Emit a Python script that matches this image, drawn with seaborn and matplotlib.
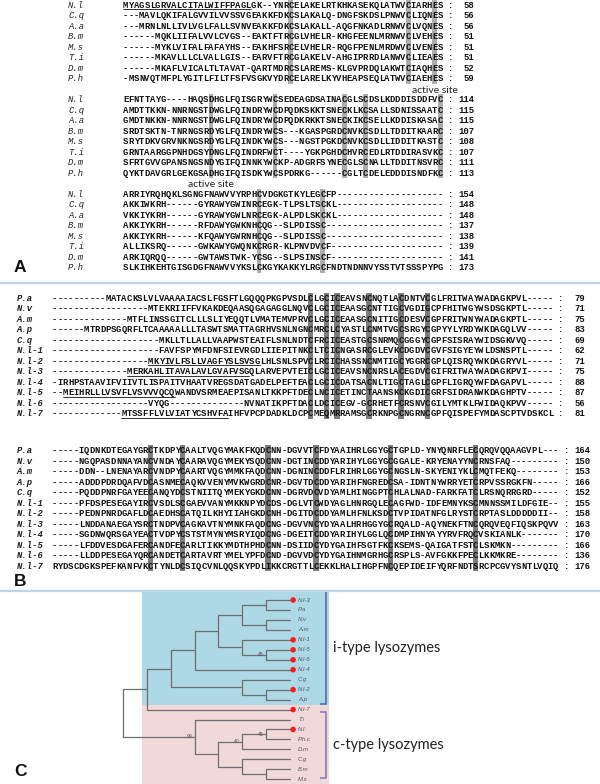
import matplotlib
matplotlib.use("Agg")
import matplotlib.pyplot as plt
from matplotlib.patches import Rectangle
import seaborn as sns
import pandas as pd
import numpy as np

sns.set_theme(style="white")
plt.rcParams["font.family"] = ["Liberation Mono", "DejaVu Sans"]

# ---------------- Panel A: c-type lysozyme alignment ----------------
names_a = ["N.l", "C.q", "A.a", "B.m", "M.s", "T.i", "D.m", "P.h"]
seq_a1 = [
    "MYAGSLGRVALCITALWIFFPAGLGK--YNRCELAKELRTKHKASEKQLATWVCIARHES",
    "---MAVLQKIFALGVVILVVSSVGEAKKFDKCSLAKALQ-DNGFSKDSLPNWVCLIQNES",
    "---MRNLNLLIVLVGLFALLSVNVEAKKFDKCSLAKALL-AQGFNKADLRNWVCLVQNES",
    "------MQKLIIFALVVLCVGS--EAKTFTRCGLVHELR-KHGFEENLMRNWVCLVEHES",
    "------MYKLVIFALFAFAYHS--EAKHFSRCELVHELR-RQGFPENLMRDWVCLVENES",
    "------MKAVLLLCLVALLGIS--EARVFTRCGLAKELV-AHGIPRRDLANWVCLIEAES",
    "------MKAFLVICALTLTAVAT-QARTMDRCSLAREMS-KLGVPRDQLAKWTCIAQHES",
    "-MSNVQTMFPLYGITLFILTFSFVSGKVYDRCELARELKYVHEAPSEQLATWVCIAEHES",
]
end_a1 = [58, 56, 56, 51, 51, 51, 52, 59]
seq_a2 = [
    "EFNTTAYG----HAQSDHGLFQISGRYWCSEDEAGDSAINACGLSCDSLKDDDISDDFVC",
    "AMDTTKKN-NNRNGSTDWGLFQINDRYWCDPQDKSKKTSNECKLKCSALLSDNISSAATC",
    "GMDTNKKN-NNRNGSTDWGLFQINDRYWCDPQDKRKKTSNECKIKCSELLKDDISKASAC",
    "SRDTSKTN-TNRNGSRDYGLFQINDRYWCS---KGASPGRDCNVKCSDLLTDDITKAARC",
    "SRYTDKVGRVNKNGSRDYGLFQINDKYWCS---NGSTPGKDCNVKCSDLLIDDITKASTC",
    "GRNTAARGGPNHDGSYDNGLFQINDRFWCT----YGKPGHDCHVRCEDLRTDDIRASVKC",
    "SFRTGVVGPANSNGSNDYGIFQINNKYWCKP-ADGRFSYNECGLSCNALLTDDITNSVRC",
    "QYKTDAVGRLGEKGSADHGIFQISDKYWCSPDRKG------CGLTCDELEDDDISNDFKC",
]
end_a2 = [114, 115, 115, 107, 108, 107, 111, 113]
seq_a3 = [
    "ARRIYRQHQKLSGNGFNAWVVYRPHCVDGKGTKYLEGCFP",
    "AKKIWKRH------GYRAWYGWINRCEGK-TLPSLTSCKL",
    "VKKIYKRH------GYRAWYGWLNRCEGK-ALPDLSKCKL",
    "AKKIYKRH------RFDAWYGWKNHCQG--SLPDISSC",
    "AKKIYKRH------KFQAWYGWRNHCQG--SLPDISSC",
    "ALLIKSRQ------GWKAWYGWQNKCRGR-KLPNVDVCF",
    "ARKIQRQQ------GWTAWSTWK-YCSG--SLPSINSCF",
    "SLKIHKEHTGISGDGFNAWVVYKSLCKGYKAKKYLRGCFNDTNDNNVYSSTVTSSSPYPG",
]
end_a3 = [154, 148, 148, 137, 138, 139, 141, 173]
shade_a1 = [31, 53, 58]
shade_a2 = [16, 28, 41, 45, 59]
shade_a3 = [25, 37]
active_site_a1 = 58
active_site_a2 = 16
signal_a1 = [(0, 0, 24)]  # (row, first column, length)

# ---------------- Panel B: i-type lysozyme alignment ----------------
names_b = ["P.a", "N.v", "A.m", "A.p", "C.q", "N.l-1", "N.l-2", "N.l-3",
           "N.l-4", "N.l-5", "N.l-6", "N.l-7"]
seq_b1 = [
    "----------MATACKSLVLVAAAAIACSLFGSFTLGQQQPKGPVSDLCLGCICEAVSNCNQTLACDNTVCGLFRITWAYWADAGKPVL-----",
    "------------------MTEKRIIFFVKAKDEQAASQGAGAGGLNQVCLGCICEAASGCNTTIGCVGDIGCPFHITWGYWSDSGKPTL-----",
    "--------------MTFLINSSGITCLLLSLIYEQQTLVMATEMVPRVCLGCICEAASGCNITIGCDESVCGPFRITWNYWADAGKPTL-----",
    "------MTRDPSGQRFLTCAAAAALLLTASWTSMATTAGRHVSNLNGNCMRCLCYASTLCNMTVGCSRGYCGPYYLYRDYWKDAGQLVV-----",
    "--------------------MKLLTLLALLVAAPWSTEAIFLSNLNDTCFRCICEASTGCSNRMQCGGGYCGPFSISRAYWIDSGKVVQ-----",
    "--------------------FAVFSPYMFDNFSIEVRGDLIIEPITNKCLTCICNGASRCGLEVKCDGDVCGVFSIGYEYWLDSNSPTL-----",
    "------------------MKYIVLFSLLVAGFYSLSVSGLHLSNLSPVCLRCICHASSNCNMTIGCYGGRCGPLQISRQYWKDAGRYVL-----",
    "--------------MERKAHLITAVALAVLGVAFVSGQLARVEPVTEICLGCICEAVSNCNRSLACEGDVCGIFRITWAYWADAGKPVI-----",
    "-IRHPSTAAVIFVIIVTLISPAITVHAATVREGSDATGADELPEFTEACLGCICDATSACNLTIGCTAGLCGPFLIGRQYWFDAGAPVL-----",
    "--MEIHRLLLVSVFLVSVVVQCQWANDVSRMEAEPISANLTKKPFTDECLNCICETINCTAANSKCKGDICGRFSIDRANWKDAGHPTV-----",
    "------------------VYQG--------------NVNATIKPFTDACLDCICEGV-GCRHETFCRSNVCGILYMTKLFWIDAQKPVV-----",
    "-------------MTSSFFLVLVIATYCSHVFAIHFVPCPDADKLDCPCMEQMRRAMSGCRKNPGCNGRNCGPFQISPEFYMDASCPTVDSKCL",
]
end_b1 = [79, 71, 75, 83, 69, 62, 71, 75, 88, 87, 56, 81]
seq_b2 = [
    "-----IQDNKDTEGAYGRCTKDPYCAALTVQGYMAKFKQDCNN-DGVVTCFDYAAIHRLGGYGCTGPLD-YNYQNRFLECQRQVQQAAGVPL---",
    "-----NGQPASDNNAYANCVNDAYCAARAVQGYMEKYSQDCNN-DGTINCDDYARIHYLGGYGCGGALE-KRYENAYYNCRNSFAQ---------",
    "-----DDN--LNENAYARCVNDPYCAARTVQGYMMKFAQDCNN-DGNINCDDFLRIHRLGGYGCNGSLN-SKYENIYKLCMQTFEKQ--------",
    "-----ADDDPDRDQAFVDCASNMECAQKVVENYMVKWGRDCNR-DGVTDCDDYARIHFNGREDCSA-IDNTNYWRRYETCRPVSSRGKFN-----",
    "-----PQDDPNRFGAYEECANQYDCSTNIITQYMEKYGKDCNN-DGRVDCVDYAMLHINGGPTCHLALNAD-FARKFATCLRSNQRRGRD-----",
    "-----PFDSPESEGAYIRCVSDLSCGAEVVANYMKKNPYDCDS-DGLVTCWDYAGLHNRGQLECAGFWD-IDFEMNYKSCMNNSSMILDFGIE--",
    "-----PEDNPNRDGAFLDCAEDHSCATQILKHYIIAHGKDCNH-DGITDCDDYAMLHFNLKSDCTVPIDATNFGLRYSTCRPTASLDDDDDII--",
    "-----LNDDANAEGAYSRCTNDPVCAGKAVTNYMNKFAQDCNG-DGVVNCYDYAALHRHGGYGCRQALD-AQYNEKFTNCQRQVEQFIQSKPQVV",
    "-----SGDNWQRSGAYEACTVDPYCSTSTMYNYMSRYIQDCNG-DGEITCDDYARIHYLGGLQCDMPIHNYAYYRVFRQCVSKIANLK-------",
    "-----LFDDVESDGAFERCANDFECARLTIKKYMDTHPHDCNN-DSIIDCYDYGAIHFSGTFKCKSEMS-QAIGATFSTCLSKMKN---------",
    "-----LLDDPESEGAYQRCANDETCARTAVRTYMELYPFDCND-DGVVDCYDYGAIHNMGRHGCRSPLS-AVFGKKFPECLKKMKRE--------",
    "RYDSCDGKSPEFKANFVKCTYNLDCSIQCVNLQQSKYPDLIKKCRGTTLCEKKLHALIHGPFNCQEPIDEIFYQRFNDTSRCPCGVYSNTLVQIQ",
]
end_b2 = [164, 150, 153, 166, 152, 155, 158, 163, 170, 166, 136, 176]
shade_b1 = [48, 51, 53, 59, 65, 70]
shade_b2 = [18, 24, 40, 49, 63, 79]
signal_b1 = [(6, 18, 21), (7, 14, 23), (9, 2, 21), (11, 13, 20)]

# ---------------- Panel C: neighbour-joining tree ----------------
clade_a = (("N.l-3", "P.a"), ("N.v", "A.m"))
clade_b = ("N.l-1", ("N.l-5", "N.l-6"))
clade_c = ("C.g", ("N.l-2", "A.p"))
i_type = ((((clade_a, clade_b), "N.l-4"), clade_c), "N.l-7")
c_type = ("T.i", ((("N.l", "P.h.c"), "D.m"), ("C.g", ("B.m", "M.s"))))
tree = (i_type, c_type)
boot_clades = [{"N.l-5", "N.l-6"}, {"N.l", "P.h.c"}, {"N.l", "P.h.c", "D.m"},
               {"T.i", "N.l", "P.h.c", "D.m", "C.g", "B.m", "M.s"}]
boot_values = [45, 45, 40, 99]
group_labels = ["i-type lysozymes", "c-type lysozymes"]
group_sizes = [11, 8]

# ---------------- layout ----------------
W, H = 600, 784
CW, PITCH = 5.33, 10.5
FS = CW / 0.6 * 0.72
BASE = 0.27
SEQ_COLOR = "#111111"

fig = plt.figure(figsize=(W / 100, H / 100), dpi=100)
fig.patch.set_facecolor("white")


def grid_axes(x0, y0, dx, dy):
    ax = fig.add_axes([0, 0, 1, 1])
    ax.set_xlim(-x0 / dx, (W - x0) / dx)
    ax.set_ylim((H - y0) / dy, -y0 / dy)
    ax.axis("off")
    ax.patch.set_alpha(0)
    return ax


def draw_block(ax, names, seqs, ends, shade, y0, ncols, name_col, name_style,
               shade_color, shade_w, signals=()):
    n = len(seqs)
    ax.bar(np.array(shade) + 0.5, n, bottom=y0 - 0.5, width=shade_w,
           color=shade_color, linewidth=0, zorder=1)
    for r, (nm, s, e) in enumerate(zip(names, seqs, ends)):
        y = y0 + r + BASE
        ax.text(name_col, y, nm, fontsize=FS, ha="left", va="baseline",
                color="#222222", **name_style)
        for c, ch in enumerate(s.ljust(ncols, "-")):
            ax.text(c + 0.5, y, ch, fontsize=FS, ha="center", va="baseline",
                    color=SEQ_COLOR, weight="bold", zorder=3)
        ax.text(ncols + 1.5, y, ":", fontsize=FS, ha="center", va="baseline",
                color=SEQ_COLOR, weight="bold")
        ax.text(ncols + 6, y, str(e), fontsize=FS, ha="right", va="baseline",
                color=SEQ_COLOR, weight="bold")
    for r, st, ln in signals:
        yy = y0 + r + BASE + 0.12
        ax.plot([st, st + ln], [yy, yy], color=SEQ_COLOR, lw=0.6, zorder=3)


# panel A
ax_a = grid_axes(123, 5, CW, PITCH)
style_a = dict(style="italic")
draw_block(ax_a, names_a, seq_a1, end_a1, shade_a1, 0, 60, -10.3, style_a, "#adadad", 0.9, signal_a1)
draw_block(ax_a, names_a, seq_a2, end_a2, shade_a2, 9, 60, -10.3, style_a, "#adadad", 0.9)
draw_block(ax_a, names_a, seq_a3, end_a3, shade_a3, 18, 60, -10.3, style_a, "#adadad", 0.9)
for col, row in [(active_site_a1, 8.1), (active_site_a2, 17.1)]:
    ax_a.text(col + 0.5, row, "active site", family="Lato", fontsize=7.5,
              ha="center", va="center", color="#222222")

# panel B
ax_b = grid_axes(52, 298, CW, PITCH)
style_b = dict(style="italic", weight="bold")
draw_block(ax_b, names_b, seq_b1, end_b1, shade_b1, 0, 94, -6.6, style_b, "#7d7d7d", 1.0, signal_b1)
draw_block(ax_b, names_b, seq_b2, end_b2, shade_b2, 14.5, 95, -6.6, style_b, "#7d7d7d", 1.0)

# panel C
T_X0, T_DX, T_Y0, T_DY = 123, 23.86, 600, 9.96
ax_t = grid_axes(T_X0, T_Y0, T_DX, T_DY)

leaves = []


def build(node):
    if isinstance(node, str):
        leaves.append(node)
        return {"y": len(leaves) - 1, "h": 0, "kids": [], "set": {node}}
    kids = [build(k) for k in node]
    return {"y": np.mean([k["y"] for k in kids]), "h": 1 + max(k["h"] for k in kids),
            "kids": kids, "set": set().union(*[k["set"] for k in kids])}


root = build(tree)
depth = root["h"]
segs, internal = [], []


def walk(nd):
    if not nd["kids"]:
        return
    x = depth - nd["h"]
    internal.append((x, nd["y"], nd["set"]))
    ys = [k["y"] for k in nd["kids"]]
    segs.append([(x, min(ys)), (x, max(ys))])
    for k in nd["kids"]:
        segs.append([(x, k["y"]), (depth - k["h"], k["y"])])
        walk(k)


walk(root)
seg_df = pd.DataFrame([(i, px, py) for i, s in enumerate(segs) for px, py in s],
                      columns=["seg", "x", "y"])

box_x0 = (142 - T_X0) / T_DX
box_x1 = (329 - T_X0) / T_DX
top = (591 - T_Y0) / T_DY
bottom = (H - T_Y0) / T_DY + 0.2
split = group_sizes[0] - 0.5
ax_t.add_patch(Rectangle((box_x0, top), box_x1 - box_x0, split - top,
                         facecolor="#add8e6", edgecolor="none", zorder=0))
ax_t.add_patch(Rectangle((box_x0, split), box_x1 - box_x0, bottom - split,
                         facecolor="#f1d9da", edgecolor="none", zorder=0))

sns.lineplot(data=seg_df, x="x", y="y", units="seg", estimator=None, sort=False,
             color="#6e6e6e", linewidth=0.9, ax=ax_t, legend=False)
ax_t.set_xlim(-T_X0 / T_DX, (W - T_X0) / T_DX)
ax_t.set_ylim((H - T_Y0) / T_DY, -T_Y0 / T_DY)
ax_t.axis("off")

leaf_y = np.arange(len(leaves))
is_nl = np.array([lf.startswith("N.l") for lf in leaves])
sns.scatterplot(x=np.full(is_nl.sum(), depth + 0.13), y=leaf_y[is_nl], color="#ff1a1a",
                s=16, edgecolor="none", ax=ax_t, zorder=4, legend=False)
for y, lf in zip(leaf_y, leaves):
    ax_t.text(depth + 0.34, y, lf, family="Liberation Sans", style="italic",
              fontsize=4.3, color="#555555", ha="left", va="center")
for cl, v in zip(boot_clades, boot_values):
    for x, y, s in internal:
        if s == cl:
            ax_t.text(x - 0.1, y, str(v), family="Liberation Sans", fontsize=3.6,
                      color="#555555", ha="right", va="center")

# brackets and group labels
br_x = (326 - T_X0) / T_DX
tick = 0.27
spans = [(top, split - 0.05), (group_sizes[0] + 0.2, len(leaves) - 1.1)]
br_cols = ["#4b62a8", "#8a70b5"]
for (y_a, y_b), col, lab in zip(spans, br_cols, group_labels):
    ax_t.plot([br_x - tick, br_x, br_x, br_x - tick], [y_a, y_a, y_b, y_b],
              color=col, lw=1.1, solid_capstyle="butt")
    ax_t.text(br_x + 0.3, (y_a + y_b) / 2, lab, family="Lato", fontsize=10.5,
              color="#222222", ha="left", va="center")

# separators and panel letters
ax_o = fig.add_axes([0, 0, 1, 1])
ax_o.set_xlim(0, W)
ax_o.set_ylim(H, 0)
ax_o.axis("off")
ax_o.patch.set_alpha(0)
for y in [283, 591]:
    ax_o.axhline(y, color="#bcd5ea", lw=1.6)
for lab, y in [("A", 268), ("B", 582), ("C", 772)]:
    ax_o.text(14, y, lab, family="Liberation Sans", weight="bold", fontsize=12.5,
              ha="left", va="center", color="#111111")

fig.savefig("out.png", dpi=100)
